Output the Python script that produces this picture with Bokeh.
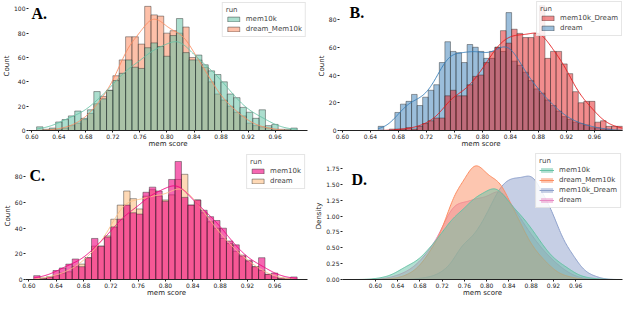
import numpy as np
from bokeh.plotting import figure
from bokeh.layouts import column, row
from bokeh.models import Range1d, FixedTicker, PrintfTickFormatter, Legend, LegendItem, Label
from bokeh.embed import file_html
from bokeh.resources import INLINE

# ---------------- data ----------------
# common bins of panels A and C
bins_ac_first = 0.607
bins_ac_width = 0.00941
mem10k_counts = [3, 1, 2, 7, 9, 12, 16, 10, 17, 32,
                 26, 33, 41, 47, 58, 52, 51, 68, 72, 69,
                 61, 78, 92, 64, 58, 62, 54, 49, 46, 40,
                 30, 27, 19, 15, 10, 17, 4, 5, 1, 1, 2]
dream_Mem10k_counts = [0, 0, 1, 1, 2, 4, 6, 9, 14, 22, 28, 33,
                       45, 58, 77, 77, 71, 102, 95, 94, 80, 82, 80, 85, 60, 58, 52, 40,
                       30, 25, 20, 15, 12, 6, 4, 3, 2, 1, 0, 0, 0]
dream_counts_c = [0, 1, 2, 3, 5, 6, 10, 12, 17,
                  26, 26, 34, 47, 58, 69, 63, 55, 65, 70, 65, 62, 66, 78, 82, 58,
                  62, 52, 45, 40, 32, 28, 22, 18, 14, 10, 7, 4, 2, 1, 0, 0]
# bins of panel B
bins_b_first = 0.651
bins_b_width = 0.00794
mem10k_Dream_counts = [0, 0, 0, 1, 1, 2, 1, 3, 5, 7,
                       9, 9, 25, 29, 25, 25, 33, 39, 40, 49,
                       57, 60, 72, 63, 73, 70, 67, 67, 70, 90,
                       52, 57, 57, 48, 41, 28, 20, 21, 21, 6,
                       7, 3, 3, 3]
dream_counts_b = [3, 0, 1, 13, 19, 21, 26, 18, 24, 29,
                  33, 49, 64, 57, 56, 49, 62, 60, 57, 52,
                  52, 60, 57, 85, 50, 47, 42, 36, 30, 27,
                  22, 18, 14, 10, 8, 6, 5, 4, 2, 2,
                  1, 1, 0, 0]

x_ticks = [0.60, 0.64, 0.68, 0.72, 0.76, 0.80, 0.84, 0.88, 0.92, 0.96]
count_ticks_a = [0, 20, 40, 60, 80, 100]
count_ticks_bc = [0, 20, 40, 60, 80]
density_ticks = [0.0, 0.25, 0.5, 0.75, 1.0, 1.25, 1.5, 1.75]

FONT = "DejaVu Sans"


def edges(first, width, counts):
    e = first + width * np.arange(len(counts) + 1)
    return e[:-1], e[1:]


def kde(first, width, counts, grid):
    c = np.asarray(counts, float)
    centers = first + width * (np.arange(len(c)) + 0.5)
    n = c.sum()
    mean = np.sum(centers * c) / n
    sd = np.sqrt(np.sum(c * (centers - mean) ** 2) / (n - 1))
    bw = sd * n ** (-0.2)
    z = (grid[:, None] - centers[None, :]) / bw
    dens = (np.exp(-0.5 * z ** 2) * c).sum(axis=1) / (n * bw * np.sqrt(2 * np.pi))
    return dens, bw, n


def make_fig(w, h, xr, yr, borders, yticks, ylabel, yfmt):
    l, r, t, b = borders
    p = figure(width=w, height=h, x_range=Range1d(*xr), y_range=Range1d(*yr),
               output_backend="svg", toolbar_location=None, title=None,
               min_border_left=l, min_border_right=r, min_border_top=t, min_border_bottom=b)
    p.grid.visible = False
    p.outline_line_color = None
    xa, ya = p.xaxis[0], p.yaxis[0]
    xa.ticker = FixedTicker(ticks=x_ticks)
    xa.formatter = PrintfTickFormatter(format="%.2f")
    ya.ticker = FixedTicker(ticks=yticks)
    ya.formatter = PrintfTickFormatter(format=yfmt)
    xa.axis_label = "mem score"
    ya.axis_label = ylabel
    for a in (xa, ya):
        a.minor_tick_line_color = None
        a.major_tick_in = 0
        a.major_tick_out = 2
        a.major_tick_line_color = "#222222"
        a.major_label_text_font = FONT
        a.major_label_text_font_size = "6px"
        a.major_label_text_color = "#222222"
        a.major_label_standoff = 1
        a.axis_label_text_font = FONT
        a.axis_label_text_font_size = "7px"
        a.axis_label_text_font_style = "normal"
        a.axis_label_text_color = "#222222"
        a.axis_label_standoff = 0
    xa.axis_label_standoff = -2
    xa.axis_line_color = "#222222"
    xa.axis_line_width = 1
    ya.axis_line_color = None
    return p


def style_legend(p, items, margin=1):
    lg = Legend(items=items, title="run", location="top_right")
    lg.title_text_font = FONT
    lg.title_text_font_size = "7px"
    lg.title_text_font_style = "normal"
    lg.title_standoff = 1
    lg.label_text_font = FONT
    lg.label_text_font_size = "7px"
    lg.label_height = 8
    lg.glyph_height = 6
    lg.glyph_width = 15
    lg.label_standoff = 5
    lg.spacing = 2
    lg.padding = 3
    lg.margin = margin
    lg.border_line_color = "#cccccc"
    lg.border_line_width = 1
    lg.background_fill_alpha = 0.85
    p.add_layout(lg)


def letter(p, text, x, y):
    p.add_layout(Label(x=x, y=y, text=text, text_font="Liberation Serif",
                       text_font_size="16px", text_font_style="bold",
                       text_baseline="alphabetic", text_color="black"))


def hist_layers(p, first, width, series):
    """series: list of (label, counts, color, alpha) in hue order; first is drawn on top."""
    rends = {}
    for label, counts, color, alpha in reversed(series):
        lft, rgt = edges(first, width, counts)
        r = p.quad(left=lft, right=rgt, bottom=0, top=counts, fill_color=color,
                   fill_alpha=alpha, line_color="#2a2a2a", line_alpha=0.55, line_width=0.8)
        rends[label] = r
    for label, counts, color, alpha in reversed(series):
        grid = np.linspace(first, first + width * len(counts), 300)
        dens, bw, n = kde(first, width, counts, grid)
        p.line(grid, dens * n * width, line_color=color, line_width=1, line_alpha=0.9)
    return [LegendItem(label=lab, renderers=[rends[lab]]) for lab, _, _, _ in series]


# ---------------- panel A ----------------
pA = make_fig(312, 150, (0.595, 1.008), (0, 106), (22, 5, 1, 12), count_ticks_a, "Count", "%d")
items = hist_layers(pA, bins_ac_first, bins_ac_width,
                    [("mem10k", mem10k_counts, "#66c2a5", 0.55),
                     ("dream_Mem10k", dream_Mem10k_counts, "#fc8d62", 0.55)])
style_legend(pA, items)
letter(pA, "A.", 0.5995, 96.5)

# ---------------- panel B ----------------
pB = make_fig(312, 150, (0.5957, 1.0), (0, 93), (27, 2, 1, 12), count_ticks_bc, "Count", "%d")
items = hist_layers(pB, bins_b_first, bins_b_width,
                    [("mem10k_Dream", mem10k_Dream_counts, "#e41a1c", 0.5),
                     ("dream", dream_counts_b, "#377eb8", 0.5)])
style_legend(pB, items, margin=0)
letter(pB, "B.", 0.610, 85)

# ---------------- panel C ----------------
pC = make_fig(312, 149, (0.595, 1.008), (0, 99), (22, 5, 2, 12), count_ticks_bc, "Count", "%d")
items = hist_layers(pC, bins_ac_first, bins_ac_width,
                    [("mem10k", mem10k_counts, "#f0027f", 0.6),
                     ("dream", dream_counts_c, "#fdc086", 0.6)])
style_legend(pC, items, margin=2)
letter(pC, "C.", 0.6008, 81)

# ---------------- panel D ----------------
pD = make_fig(312, 149, (0.541, 1.044), (0, 2.0), (28, 2, 2, 12), density_ticks, "Density", "%.2f")
kde_series = [("mem10k", bins_ac_first, bins_ac_width, mem10k_counts, "#66c2a5"),
              ("dream_Mem10k", bins_ac_first, bins_ac_width, dream_Mem10k_counts, "#fc8d62"),
              ("mem10k_Dream", bins_b_first, bins_b_width, mem10k_Dream_counts, "#8da0cb"),
              ("dream", bins_ac_first, bins_ac_width, dream_counts_c, "#e78ac3")]
N_total = sum(float(np.sum(s[3])) for s in kde_series)
d_rends = {}
for label, first, width, counts, color in reversed(kde_series):
    _, bw, _ = kde(first, width, counts, np.array([0.8]))
    lo, hi = first - 3 * bw, first + width * len(counts) + 3 * bw
    grid = np.linspace(lo, hi, 300)
    dens, bw, n = kde(first, width, counts, grid)
    y = dens * n / N_total
    ra = pD.varea(x=grid, y1=0, y2=y, fill_color=color, fill_alpha=0.5)
    rl = pD.line(grid, y, line_color=color, line_width=1)
    d_rends[label] = [ra, rl]
style_legend(pD, [LegendItem(label=s[0], renderers=d_rends[s[0]]) for s in kde_series])
letter(pD, "D.", 0.557, 1.575)

layout = column(row(pA, pB, spacing=0), row(pC, pD, spacing=0), spacing=0)
open("out.html", "w").write(file_html(layout, INLINE))
